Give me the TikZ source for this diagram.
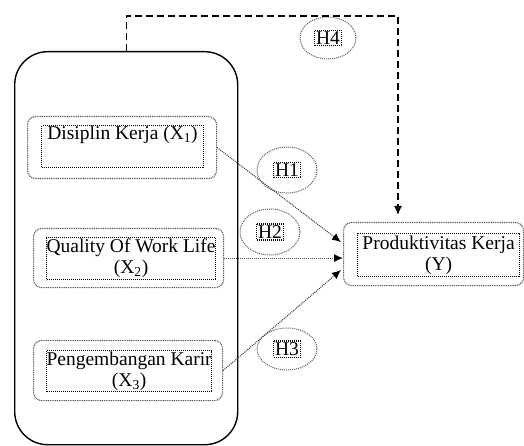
\documentclass[tikz,border=0pt]{standalone}
\usepackage{fontspec}
\setmainfont{Liberation Serif}
\usetikzlibrary{shapes.geometric,calc,arrows.meta}
\begin{document}
\begin{tikzpicture}[x=1pt,y=-1pt,
 lbl/.style={font=\fontsize{19.5}{21}\selectfont},
 innerbox/.style={lbl, draw=black, dash pattern=on 1pt off 1pt, line width=1.1pt, inner sep=0pt, align=center, anchor=north west},
 outerbox/.style={draw=gray!70!black, dash pattern=on 1pt off 0.8pt, line width=1.1pt, rounded corners=8pt, anchor=north west, inner sep=0pt},
 hyp/.style={ellipse, draw=gray!70!black, dash pattern=on 1pt off 1pt, line width=1pt, inner sep=0pt},
 hyplbl/.style={lbl, draw=black, dash pattern=on 1pt off 1pt, line width=1.1pt, inner sep=1.5pt},
 link/.style={draw=gray!50!black, dash pattern=on 1pt off 1pt, line width=1.1pt, -{Latex[length=9pt,width=8pt,black]}}
]
\useasboundingbox (0,0) rectangle (524,446);
% group box
\node[draw, line width=1.4pt, rounded corners=33pt, minimum width=223pt, minimum height=393pt, anchor=north west] (grp) at (14,51) {};
% X1
\node[outerbox, minimum width=189pt, minimum height=62pt] (x1o) at (27,116) {};
\node[innerbox, minimum width=162pt, minimum height=42pt] (x1) at (41,125) {Disiplin Kerja (X\textsubscript{1})\\ \strut};
% X2
\node[outerbox, minimum width=190pt, minimum height=59pt] (x2o) at (33,228) {};
\node[innerbox, minimum width=162pt, minimum height=42pt] (x2) at (46,237) {Quality Of Work Life\\(X\textsubscript{2})};
% X3
\node[outerbox, minimum width=189pt, minimum height=60pt] (x3o) at (33,340) {};
\node[innerbox, minimum width=162pt, minimum height=41pt] (x3) at (46,350) {Pengembangan Karir\\(X\textsubscript{3})};
% Y
\node[outerbox, minimum width=180pt, minimum height=63pt] (yo) at (343,222) {};
\node[innerbox, minimum width=162pt, minimum height=43pt] (y) at (357,233) {Produktivitas Kerja\\(Y)};
% hypotheses
\node[hyp, minimum width=56pt, minimum height=42pt] (h4e) at (328,38) {};
\node[hyplbl] (h4) at (h4e) {H4};
\node[hyp, minimum width=60pt, minimum height=46pt] (h1e) at (287,170) {};
\node[hyplbl] (h1) at (h1e) {H1};
\node[hyp, minimum width=60pt, minimum height=46pt] (h2e) at (270,232) {};
\node[hyplbl] (h2) at (h2e) {H2};
\node[hyp, minimum width=60pt, minimum height=42pt] (h3e) at (287,349) {};
\node[hyplbl] (h3) at (h3e) {H3};
% connectors
\draw[link] (x1o.east) -- ($(yo.west)+(-2,-12)$);
\draw[link] (x2o.east) -- (x2o.east -| yo.west);
\draw[link] (x3o.east) -- ($(yo.west)+(-2,16)$);
\coordinate (dtop) at (398,16);
\draw[line width=1.3pt, dash pattern=on 7pt off 4pt, -{Latex[length=9pt,width=8pt]}, shorten >=7pt] (grp.north) |- (dtop) -- (dtop |- yo.north);
\end{tikzpicture}
\end{document}
